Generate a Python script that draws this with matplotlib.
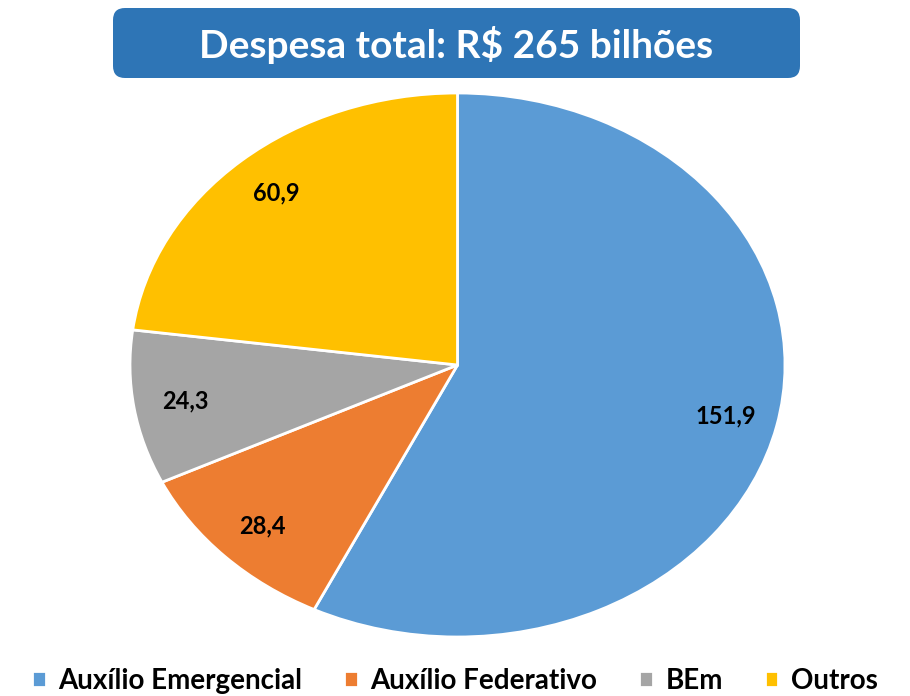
import matplotlib.pyplot as plt
from matplotlib.patches import FancyBboxPatch

categories = ['Auxílio Emergencial', 'Auxílio Federativo', 'BEm', 'Outros']
values = [151.9, 28.4, 24.3, 60.9]
labels = ['151,9', '28,4', '24,3', '60,9']
colors = ['#5B9BD5', '#ED7D31', '#A5A5A5', '#FFC000']
title = 'Despesa total: R$ 265 bilhões'

plt.rcParams['font.family'] = ['Lato', 'DejaVu Sans']

fig = plt.figure(figsize=(9.1, 6.96), dpi=100)

# title box (pixel coordinates)
bg = fig.add_axes([0, 0, 1, 1])
bg.set_xlim(0, 910)
bg.set_ylim(696, 0)
bg.axis('off')
box = FancyBboxPatch((113, 8), 687, 70, boxstyle='round,pad=0,rounding_size=12',
                     facecolor='#2E75B6', edgecolor='none')
bg.add_patch(box)
bg.text(456, 45, title, color='white', fontsize=28, fontweight='bold',
        ha='center', va='center')

# pie, stretched to an ellipse
ax = fig.add_axes([130 / 910, 59 / 696, 655 / 910, 544 / 696])
wedges, texts = ax.pie(values, colors=colors, startangle=90, counterclock=False,
                       labels=labels, labeldistance=0.84,
                       wedgeprops=dict(edgecolor='white', linewidth=2),
                       textprops=dict(fontsize=17, fontweight='bold', color='black',
                                      ha='center', va='center'))
ax.set_aspect('auto')
ax.set_xlim(-1, 1)
ax.set_ylim(-1, 1)

fig.legend(wedges, categories, loc='center', bbox_to_anchor=(0.5, 0.022), ncol=4,
           frameon=False, prop=dict(size=20, weight='bold'),
           handlelength=0.5, handleheight=0.5, handletextpad=0.45, columnspacing=1.5,
           borderpad=0.1)

fig.savefig('out.png', dpi=100)
